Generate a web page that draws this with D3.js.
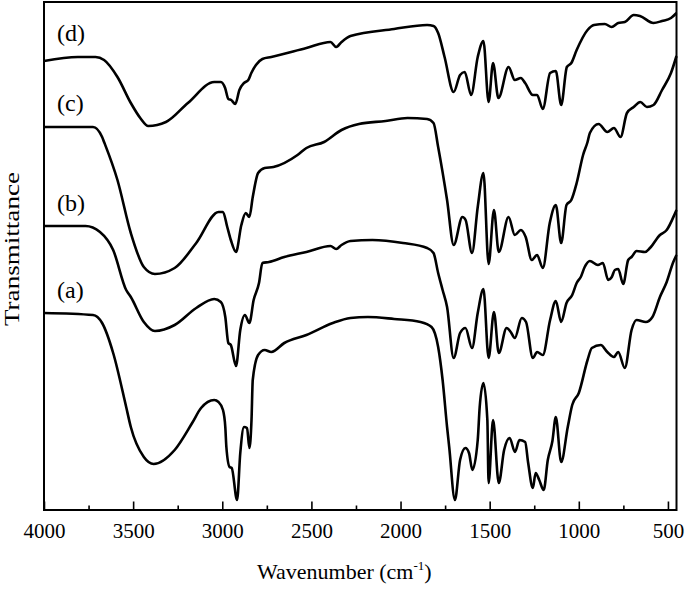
<!DOCTYPE html>
<html>
<head>
<meta charset="utf-8">
<script src="https://cdn.jsdelivr.net/npm/d3@7"></script>
<style>
  html, body { margin: 0; padding: 0; background: #fff; }
  svg { display: block; }
  text { font-family: "Liberation Serif", "Times New Roman", Times, serif; fill: #000; }
</style>
</head>
<body>
<svg id="chart" width="685" height="591"></svg>
<script>
// ---- Data (transmittance in arbitrary units, curves offset vertically) ----
const waveD = [4000,3810,3711,3663,3588,3513,3460,3415,3316,3193,3045,3008,2984,2966,2950,2927,2904,2878,2854,2837,2811,2775,2725,2528,2393,2361,2331,2281,2036,1851,1815,1789,1753,1702,1666,1640,1604,1567,1535,1506,1481,1451,1394,1359,1325,1301,1258,1234,1202,1161,1129,1099,1067,1042,1012,951,915,854,816,779,742,692,657,581,533,483,452];
const transD = [449,453,453,450,433,407,392,384,388,407,428,428,422,411,410,406,420,427,430,437,445,451,453,462,468,463,468,474,481,485,484,477,453,418,435,438,415,453,469,408,447,412,443,430,432,427,415,415,401,437,439,405,443,447,460,480,485,486,483,487,488,495,494,487,489,492,497];

const waveC = [4000,3725,3674,3663,3588,3513,3440,3378,3267,3146,3021,2996,2972,2952,2923,2893,2868,2848,2829,2799,2762,2713,2578,2528,2429,2331,2233,2084,1961,1851,1815,1789,1739,1702,1653,1635,1599,1567,1535,1506,1476,1449,1394,1359,1325,1298,1264,1234,1202,1163,1129,1099,1069,1042,1012,976,951,938,889,840,803,766,730,692,655,618,581,533,483,452];
const transC = [383,383,373,368,330,277,243,236,242,267,298,298,283,270,258,285,297,293,313,337,342,343,355,362,368,380,386,389,392,391,387,363,310,265,293,290,257,303,337,246,300,258,293,275,280,273,250,255,242,287,305,267,305,310,327,355,368,377,386,378,382,373,397,403,408,403,405,420,437,454];

const waveB = [4000,3767,3686,3612,3539,3513,3440,3378,3267,3146,3045,3008,2983,2966,2952,2923,2899,2873,2848,2824,2794,2775,2738,2652,2528,2393,2361,2331,2281,2158,1986,1851,1815,1789,1764,1739,1702,1666,1636,1599,1567,1535,1506,1476,1449,1405,1382,1359,1320,1296,1258,1234,1202,1161,1129,1099,1069,1037,1012,989,967,938,893,865,835,815,798,779,751,723,704,676,629,601,545,507,457,452];
const transB = [284,284,278,260,220,213,188,179,185,202,211,208,193,167,165,144,180,195,187,210,227,247,248,253,258,264,261,265,269,270,267,262,257,237,220,203,152,177,182,162,197,221,152,198,157,182,178,172,192,188,152,158,155,190,209,188,207,215,227,233,243,249,245,247,230,233,240,241,226,250,253,259,258,262,275,280,298,300];

const waveA = [4000,3725,3674,3612,3539,3513,3440,3385,3267,3169,3119,3045,3021,2996,2983,2977,2959,2947,2917,2899,2878,2861,2848,2836,2829,2799,2762,2725,2652,2528,2380,2281,2183,2036,1888,1826,1789,1764,1739,1727,1695,1666,1636,1616,1597,1567,1556,1535,1513,1506,1481,1449,1419,1388,1358,1333,1301,1284,1258,1242,1222,1197,1174,1148,1129,1099,1062,1037,1000,951,927,877,840,803,779,742,704,676,624,587,545,507,470,452];
const transA = [197,195,187,157,103,83,53,46,60,87,102,110,108,100,83,63,43,42,10,57,83,82,62,90,130,155,160,158,167,175,187,192,193,191,188,183,163,130,83,63,10,50,62,57,40,70,103,127,90,27,90,27,60,72,58,70,68,47,22,37,30,20,50,69,93,48,83,105,117,150,162,165,158,153,158,142,180,190,188,193,213,228,248,255];

const seriesNames = ["(d)", "(c)", "(b)", "(a)"];
const labelValues = [469, 399, 299, 212];   // label baselines in data units
const majorTicks = [4000, 3500, 3000, 2500, 2000, 1500, 1000, 500];
const minorTicks = [3750, 3250, 2750, 2250, 1750, 1250, 750];
const xTitle = "Wavenumber (cm";
const xTitleSup = "-1";
const yTitle = "Transmittance";

// ---- Layout ----
const plotLeft = 44, plotRight = 676.5, plotTop = 2, plotBottom = 510;
const svg = d3.select("#chart");

const x = d3.scaleLinear().domain([4000, 452]).range([plotLeft, plotRight]);
const y = d3.scaleLinear().domain([0, 508]).range([plotBottom, plotTop]);

const series = [
  {name: seriesNames[0], w: waveD, t: transD},
  {name: seriesNames[1], w: waveC, t: transC},
  {name: seriesNames[2], w: waveB, t: transB},
  {name: seriesNames[3], w: waveA, t: transA}
];

const line = d3.line()
  .x(d => x(d[0]))
  .y(d => y(d[1]))
  .curve(d3.curveMonotoneX);

svg.append("g").selectAll("path")
  .data(series)
  .join("path")
  .attr("d", s => line(s.w.map((w, i) => [w, s.t[i]])))
  .attr("fill", "none")
  .attr("stroke", "#000")
  .attr("stroke-width", 2.6)
  .attr("stroke-linejoin", "round");

// Series labels
svg.append("g").selectAll("text")
  .data(series)
  .join("text")
  .attr("x", 57)
  .attr("y", (s, i) => y(labelValues[i]))
  .attr("font-size", 24)
  .text(s => s.name);

// Minor ticks
const minorAxis = d3.axisBottom(x).tickValues(minorTicks).tickSizeInner(-4.5).tickSizeOuter(0).tickFormat("");
const gMinor = svg.append("g").attr("transform", `translate(0,${plotBottom})`).call(minorAxis);
gMinor.select(".domain").remove();
gMinor.selectAll("line").attr("stroke", "#000").attr("stroke-width", 1.6);

// Major ticks + labels
const majorAxis = d3.axisBottom(x).tickValues(majorTicks).tickSizeInner(-8.5).tickSizeOuter(0)
  .tickPadding(13).tickFormat(d3.format("d"));
const gMajor = svg.append("g").attr("transform", `translate(0,${plotBottom})`).call(majorAxis);
gMajor.select(".domain").remove();
gMajor.selectAll("line").attr("stroke", "#000").attr("stroke-width", 1.6);
gMajor.selectAll("text").attr("font-size", 21).attr("font-family", '"Liberation Serif", "Times New Roman", serif').attr("fill", "#000");

// Frame
svg.append("rect")
  .attr("x", plotLeft).attr("y", plotTop)
  .attr("width", plotRight - plotLeft).attr("height", plotBottom - plotTop)
  .attr("fill", "none").attr("stroke", "#000").attr("stroke-width", 2);

// Axis titles
const xt = svg.append("text").attr("x", 257).attr("y", 579).attr("font-size", 22);
xt.append("tspan").text(xTitle);
xt.append("tspan").attr("dy", -9).attr("font-size", 13).text(xTitleSup);
xt.append("tspan").attr("dy", 9).attr("font-size", 22).text(")");

svg.append("text")
  .attr("transform", "translate(19,249) rotate(-90)")
  .attr("text-anchor", "middle")
  .attr("font-size", 21)
  .attr("textLength", 154)
  .attr("lengthAdjust", "spacingAndGlyphs")
  .text(yTitle);
</script>
</body>
</html>
